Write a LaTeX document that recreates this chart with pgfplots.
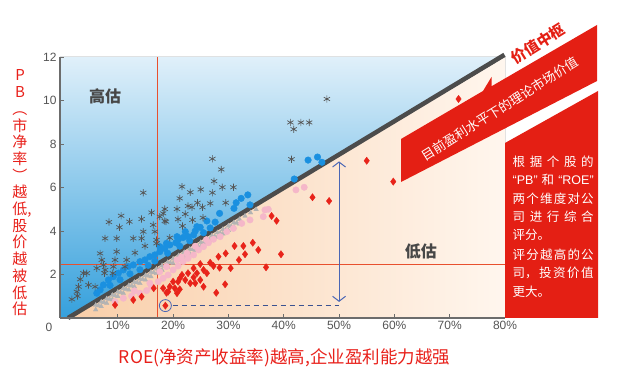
\documentclass[border=0pt]{standalone}
\usepackage{pgfplots}
\pgfplotsset{compat=1.18}
\usepackage{fontspec}
\setmainfont{Liberation Sans}
\newfontfamily\cjk{Noto Sans CJK SC}
\usetikzlibrary{arrows.meta}
\definecolor{bluebg1}{HTML}{E0F0FA}
\definecolor{bluebg2}{HTML}{35A0DC}
\definecolor{peach1}{HTML}{F9CEA8}
\definecolor{peach2}{HTML}{FFF6EE}
\definecolor{ptblue}{HTML}{1A90E0}
\definecolor{ptpink}{HTML}{F5B7C9}
\definecolor{ptred}{HTML}{E8231A}
\definecolor{ptgray}{HTML}{B3B3B3}
\definecolor{astgray}{HTML}{555555}
\definecolor{bannerred}{HTML}{E41F14}
\definecolor{refline}{HTML}{E8502E}
\definecolor{arrowblue}{HTML}{4A66B5}
\definecolor{labred}{HTML}{E8201A}
\definecolor{tickgray}{HTML}{555555}
\begin{document}
\begin{tikzpicture}
\useasboundingbox (0,0) rectangle (619pt,380pt);
\begin{axis}[
  at={(60pt,62pt)}, anchor=south west,
  scale only axis, width=445pt, height=261pt,
  xmin=-0.45, xmax=80, ymin=0, ymax=12,
  clip=false, axis on top,
  axis x line=bottom, axis y line=left,
  axis line style={-, draw=gray!85!black, line width=1.5pt},
  tick align=inside, major tick length=4pt,
  tick style={draw=gray!85!black, line width=0.8pt},
  xtick={10,20,...,80}, ytick={2,4,...,12},
  xticklabel={\pgfmathprintnumber[assume math mode=true]{\tick}\%},
  /pgf/number format/assume math mode=true,
  ticklabel style={font=\fontsize{12}{12}\selectfont, text=tickgray},
]
% backgrounds
\fill[top color=bluebg1, bottom color=bluebg2] (axis cs:-0.45,0) -- (axis cs:1,0) -- (axis cs:80,12) -- (axis cs:-0.45,12) -- cycle;
\fill[left color=peach1, right color=peach2] (axis cs:1,0) -- (axis cs:80,0) -- (axis cs:80,12) -- cycle;

% gray band just below the value line
\addplot[only marks, mark=triangle*, mark size=2.6pt, color=ptgray] coordinates {
(6,0.59)(7,0.74)(8,0.89)(9,1.05)(10,1.20)(11,1.35)(12,1.50)(13,1.65)(14,1.80)(15,1.96)
(16,2.11)(17,2.26)(18,2.41)(19,2.56)(20,2.72)(21,2.87)(22,3.02)(23,3.17)(24,3.32)(25,3.48)
(26,3.63)(27,3.78)(28,3.93)(29,4.08)(30,4.24)(31,4.39)(32,4.54)(33,4.69)(34,4.84)(35,4.99)
(6,0.38)(7,0.53)(8,0.68)(9,0.84)(10,0.99)(11,1.14)(12,1.29)(13,1.44)(14,1.59)(15,1.75)
(16,1.90)(17,2.05)(18,2.20)(19,2.35)(20,2.51)(21,2.66)(22,2.81)(23,2.96)(24,3.11)(25,3.27)
(26,3.42)(27,3.57)(28,3.72)(29,3.87)(30,4.03)(31,4.18)(32,4.33)
(6.5,0.57)(7.5,0.72)(8.5,0.87)(9.5,1.03)(10.5,1.18)(11.5,1.33)(12.5,1.48)(13.5,1.63)(14.5,1.78)
(15.5,1.94)(16.5,2.09)(17.5,2.24)(18.5,2.39)(19.5,2.54)(20.5,2.70)(21.5,2.85)(22.5,3.00)
(23.5,3.15)(24.5,3.30)(25.5,3.46)(26.5,3.61)(27.5,3.76)(28.5,3.91)(29.5,4.06)(30.5,4.22)(31.5,4.37)
};
% pink
\addplot[only marks, mark=*, mark size=3.2pt, color=ptpink] coordinates {
(9.5,0.75)(11.0,0.91)(12.5,1.01)(14.0,1.14)(15.2,1.26)(16.1,1.44)(17.3,1.67)(18.2,1.83)
(19.1,1.98)(20.0,2.21)(20.9,2.39)(21.8,2.59)(22.7,2.74)(23.7,2.90)(24.6,3.13)(25.5,3.28)
(26.4,3.46)(27.3,3.62)(28.5,3.74)(29.7,3.97)(30.9,4.12)(32.4,4.35)(33.9,4.51)(36.3,4.66)
(36.6,4.97)(17.6,2.13)(18.8,2.36)(20.7,2.67)(22.5,2.97)(42.2,5.89)(43.7,6.01)(37.2,5.00)
(24.0,3.30)(26.0,3.60)(21.5,2.80)(13.0,1.25)(15.8,1.60)
};
% red
\addplot[only marks, mark=diamond*, mark size=3.6pt, color=ptred] coordinates {
(71.6,10.07)(59.8,6.27)(55.0,7.23)(45.2,5.55)(48.2,5.38)(37.8,4.69)(38.7,4.47)(39.5,2.93)
(36.8,2.33)(35.4,3.13)(34.4,3.46)(32.7,3.31)(31.1,3.31)(33.0,2.93)(29.5,2.97)(31.9,2.67)
(28.2,2.82)(26.7,2.54)(27.3,2.39)(24.9,2.48)(30.4,2.29)(28.4,2.31)(23.7,2.29)(25.5,2.21)
(26.1,2.06)(24.3,2.06)(22.7,2.06)(21.6,1.98)(23.7,1.87)(24.9,1.75)(22.2,1.75)(20.9,1.67)
(20.0,1.67)(23.1,1.60)(24.0,1.60)(19.4,1.44)(20.3,1.37)(29.4,1.55)(25.5,1.44)(18.2,1.37)
(21.2,1.32)(18.8,1.16)(20.7,1.14)(27.8,1.16)(21.2,1.82)(9.5,0.60)(12.8,0.83)(14.3,0.98)
(16.5,1.37)(19.1,1.21)(18.6,0.57)
};
% blue
\addplot[only marks, mark=*, mark size=3.3pt, color=ptblue] coordinates {
(44.4,7.26)(46.1,7.40)(46.9,7.16)(41.9,6.39)(33.5,5.66)(32.3,5.50)(31.4,5.30)(31.0,5.04)
(33.9,5.20)(28.4,4.81)(27.6,4.41)(26.1,4.46)(26.7,4.14)(25.5,3.92)(24.9,4.17)(24.0,4.00)
(23.7,3.82)(22.7,3.74)(21.8,3.70)(20.9,3.59)(20.5,3.46)(19.4,3.36)(18.5,3.20)(17.6,3.05)
(18.8,3.43)(20.7,3.74)(22.2,3.97)(24.3,4.20)(17.6,3.28)(16.7,2.90)(15.8,2.82)(14.9,2.67)
(14.0,2.59)(12.8,2.44)(11.9,2.36)(11.0,2.21)(10.1,2.06)(9.2,1.90)(8.3,1.75)(7.4,1.52)
(6.8,1.29)(6.2,1.14)(15.5,2.42)(14.0,2.22)(12.2,2.03)(10.4,1.76)(8.6,1.50)(16.7,2.62)
(19.0,2.98)(21.2,3.30)(23.0,3.55)
};
% asterisks
\addplot[only marks, mark=asterisk, mark size=3.6pt, color=astgray, mark options={line width=0.7pt}] coordinates {
(47.8,10.07)(41.2,8.99)(43.1,8.99)(44.6,8.99)(41.8,8.68)(41.4,7.30)(27.1,7.32)(28.7,6.83)
(27.4,6.29)(28.9,6.01)(30.9,6.01)(21.6,6.04)(23.1,5.78)(25.0,5.91)(27.1,5.76)(21.2,5.50)
(24.4,5.30)(26.7,5.27)(29.5,5.30)(23.4,5.09)(25.3,5.09)(18.5,5.01)(20.7,5.01)(22.2,4.78)
(18.2,4.81)(25.4,4.61)(20.9,4.54)(23.5,4.51)(18.5,4.46)(21.7,4.23)(19.4,3.69)(14.6,5.76)
(10.6,4.70)(8.4,4.41)(12.1,4.43)(16.1,4.85)(14.3,4.55)(17.6,4.66)(18.7,4.43)(10.3,4.17)
(7.7,3.66)(9.8,3.66)(12.8,3.66)(14.3,3.66)(14.6,3.97)(16.4,4.28)(16.7,3.97)(17.0,3.59)
(22.7,5.15)(14.9,3.31)(17.0,3.43)(6.8,2.97)(9.8,3.05)(13.1,3.00)(7.1,2.67)(9.5,2.67)
(11.6,2.67)(6.2,2.29)(7.7,2.21)(4.4,2.06)(3.2,1.78)(4.7,1.52)(5.9,1.44)(2.9,1.44)
(2.6,1.21)(1.7,0.86)(2.7,1.01)(7.4,2.44)(9.2,2.36)(11.3,2.36)(7.6,2.06)(9.1,2.06)(3.8,2.06)
};
% reference lines
\draw[refline, line width=1pt] (axis cs:17.1,0) -- (axis cs:17.1,12);
\draw[refline, line width=1pt] (axis cs:-0.45,2.47) -- (axis cs:80,2.47);
% value line
\draw[line width=4.5pt, color=black!70] (axis cs:1,0) -- (axis cs:79.9,12.1);
% annotations
\draw[arrowblue, line width=0.8pt] (axis cs:18.6,0.57) circle[radius=6pt];
\draw[arrowblue!80!black, line width=1.2pt, dash pattern=on 5pt off 4pt] (axis cs:19.9,0.57) -- (axis cs:50,0.57);
\draw[arrowblue, line width=1pt, {Straight Barb[length=5pt,width=13pt]}-{Straight Barb[length=5pt,width=13pt]}] (axis cs:50,7.2) -- (axis cs:50,0.74);
\node[font=\cjk\bfseries\fontsize{16}{16}\selectfont, text=black!72] at (axis cs:7.7,10.2) {高估};
\node[font=\cjk\bfseries\fontsize{16}{16}\selectfont, text=black!72] at (axis cs:64.8,3.08) {低估};
\end{axis}
\begin{scope}[x=1pt,y=-1pt,shift={(0pt,380pt)}]
\fill[bannerred] (401,139) -- (483,91) -- (491.5,77) -- (491.5,86.3) -- (597,25) -- (597,81) -- (401,182) -- cycle;
\node[rotate=32, text=white, font=\cjk\fontsize{13}{13}\selectfont] at (500,109) {目前盈利水平下的理论市场价值};
\node[rotate=32, text=bannerred, font=\cjk\bfseries\fontsize{15}{15}\selectfont] at (538,44) {价值中枢};
\fill[bannerred] (505,143) -- (598,91) -- (598,318) -- (505,318) -- cycle;
\begin{scope}[every node/.style={anchor=west, text=white, inner sep=0pt, font=\cjk\fontsize{12.5}{12.5}\selectfont}]
\node at (512.5,161.7) {\hbox to 81pt{根\hfil 据\hfil 个\hfil 股\hfil 的}};
\node at (512.5,180) {\hbox to 81pt{{\rmfamily“PB”}\hfil 和\hfil {\rmfamily“ROE”}}};
\node at (512.5,198.3) {\hbox to 81pt{两\hfil 个\hfil 维\hfil 度\hfil 对\hfil 公}};
\node at (512.5,216.7) {\hbox to 81pt{司\hfil 进\hfil 行\hfil 综\hfil 合}};
\node at (512.5,235) {评分。};
\node at (512.5,255) {\hbox to 81pt{评\hfil 分\hfil 越\hfil 高\hfil 的\hfil 公}};
\node at (512.5,273.3) {\hbox to 81pt{司，\hfil 投\hfil 资\hfil 价\hfil 值}};
\node at (512.5,291.7) {更大。};
\end{scope}
\node[align=center, text=labred, font=\cjk\fontsize{15}{16.7}\selectfont, inner sep=0pt] at (20,193) {P\\B\\︵\\市\\净\\率\\︶\\越\\低\rlap{,}\\股\\价\\越\\被\\低\\估};
\node[text=labred, font=\cjk\fontsize{17.5}{17.5}\selectfont] at (284.5,358) {ROE(净资产收益率)越高,企业盈利能力越强};
\node[text=tickgray, font=\fontsize{12}{12}\selectfont] at (49,327) {0};
\end{scope}
\end{tikzpicture}
\end{document}
